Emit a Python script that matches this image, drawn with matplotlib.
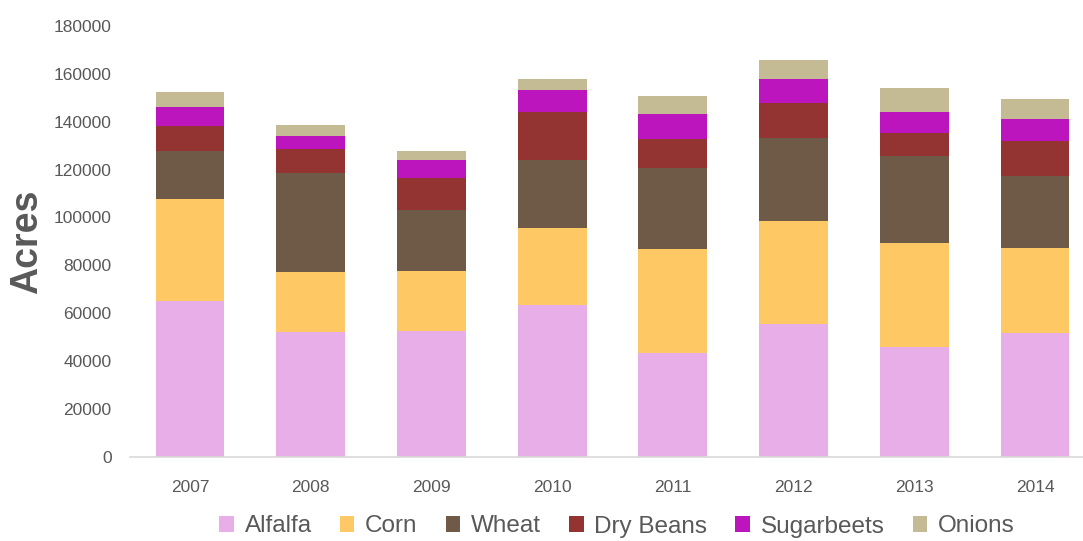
import matplotlib.pyplot as plt
import numpy as np
from matplotlib.patches import Patch

plt.rcParams['font.family'] = ['Liberation Sans', 'DejaVu Sans']

years = ["2007", "2008", "2009", "2010", "2011", "2012", "2013", "2014"]
crops = ["Alfalfa", "Corn", "Wheat", "Dry Beans", "Sugarbeets", "Onions"]

alfalfa = [65200, 52200, 52500, 63400, 43300, 55500, 45700, 51700]
corn = [42400, 24900, 25100, 32300, 43600, 43000, 43500, 35500]
wheat = [20200, 41400, 25400, 28300, 33800, 34800, 36600, 30100]
dry_beans = [10400, 10000, 13500, 20100, 12200, 14400, 9400, 14700]
sugarbeets = [8000, 5400, 7400, 9000, 10200, 10300, 9000, 9300]
onions = [6400, 4600, 4000, 4900, 7800, 7700, 10000, 8100]

colors = ["#E8AEE8", "#FEC965", "#6E5A46", "#933432", "#BC15BD", "#C4BB95"]
series = [alfalfa, corn, wheat, dry_beans, sugarbeets, onions]

fig = plt.figure(figsize=(10.83, 5.41), dpi=100)
# axes run a bit past the right edge, like a cropped export
ax = fig.add_axes([129.6 / 1083, 84.3 / 541, 965.8 / 1083, 430.7 / 541])

x = np.arange(len(years))
bottom = np.zeros(len(years))
for vals, col in zip(series, colors):
    ax.bar(x, vals, width=0.57, bottom=bottom, color=col, linewidth=0)
    bottom += np.array(vals)

ax.set_xlim(-0.5, len(years) - 0.5)
ax.set_ylim(0, 180000)
ax.set_yticks(range(0, 180001, 20000))
ax.set_xticks(x)
ax.set_xticklabels(years)
ax.tick_params(axis="both", length=0, colors="#595959", labelsize=12.5)
ax.tick_params(axis="x", pad=17)
ax.tick_params(axis="y", pad=13)

for s in ["top", "right", "left"]:
    ax.spines[s].set_visible(False)
ax.spines["bottom"].set_color("#D9D9D9")
ax.spines["bottom"].set_linewidth(1.2)

fig.text(27 / 1083, 1 - 242 / 541, "Acres", rotation=90, ha="center", va="center",
         fontsize=27, fontweight="bold", color="#595959")

handles = [Patch(facecolor=c, edgecolor="none") for c in colors]
fig.legend(handles, crops, loc="center", bbox_to_anchor=(617 / 1083, 1 - 526.5 / 541),
           ncol=6, frameon=False, fontsize=17.5, labelcolor="#595959",
           handlelength=0.6, handleheight=0.65, handletextpad=0.45, columnspacing=1.15)

fig.savefig("out.png", dpi=100)
